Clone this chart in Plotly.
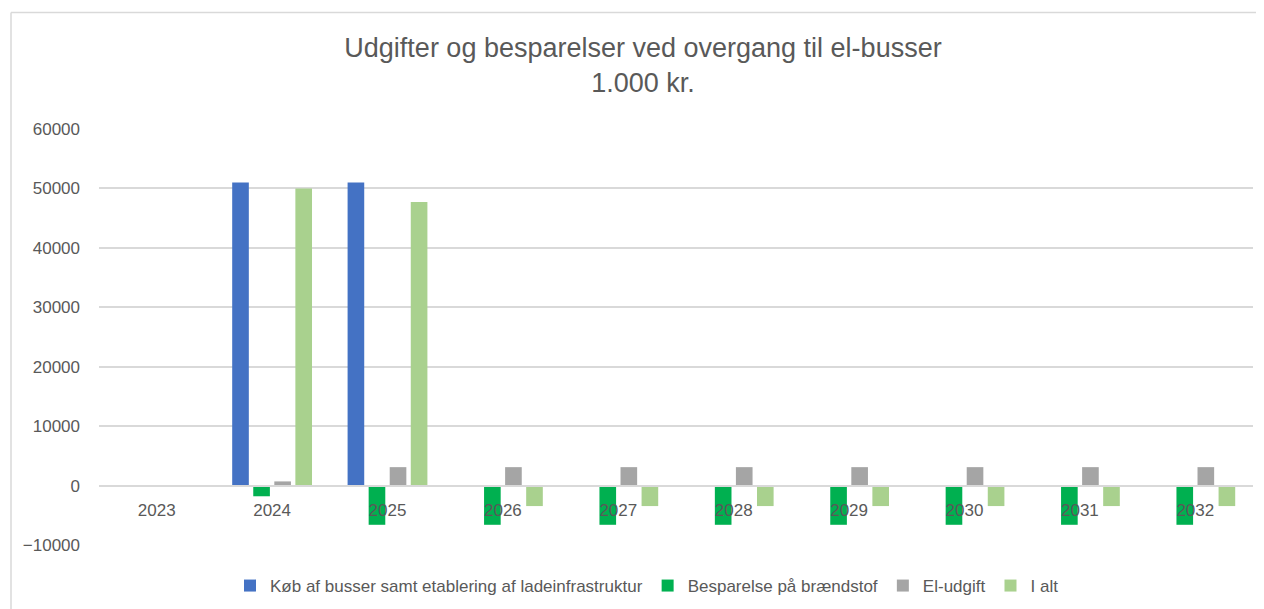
import plotly.graph_objects as go

years = ["2023", "2024", "2025", "2026", "2027", "2028", "2029", "2030", "2031", "2032"]
koeb = [0, 51000, 51000, 0, 0, 0, 0, 0, 0, 0]
besparelse = [0, -1800, -6600, -6600, -6600, -6600, -6600, -6600, -6600, -6600]
el_udgift = [0, 700, 3100, 3100, 3100, 3100, 3100, 3100, 3100, 3100]
i_alt = [0, 50000, 47700, -3450, -3450, -3450, -3450, -3450, -3450, -3450]

names = ["Køb af busser samt etablering af ladeinfrastruktur", "Besparelse på brændstof", "El-udgift", "I alt"]
colors = ["#4472C4", "#00B050", "#A5A5A5", "#A9D18E"]
series = [koeb, besparelse, el_udgift, i_alt]

FONT = "Liberation Sans, Arial, sans-serif"
TXT = "#595959"

fig = go.Figure()
for n, c, v in zip(names, colors, series):
    fig.add_trace(go.Bar(x=years, y=v, name=n, marker=dict(color=c, line=dict(width=0))))

# page has an 8px body margin; figure coordinates = screen - 8
OFF = 8
W, H = 1264 - OFF, 609 - OFF
L, R, T = 99 - OFF, 11, 129 - OFF
B = H - T - 416
pw, ph = W - L - R, H - T - B

def px(x):
    return (x - OFF - L) / pw

def py(y):
    return (H - B - (y - OFF)) / ph

fig.update_layout(
    width=W, height=H,
    margin=dict(l=L, r=R, t=T, b=B, autoexpand=False),
    paper_bgcolor="white", plot_bgcolor="white",
    barmode="group", bargap=0.27, bargroupgap=0.21,
    font=dict(family=FONT, color=TXT, size=17),
    title=dict(
        text="Udgifter og besparelser ved overgang til el-busser<br>1.000 kr.",
        x=(643 - OFF) / W, xref="container", xanchor="center",
        y=1 - (57 - OFF) / H, yref="container", yanchor="top",
        font=dict(family=FONT, size=27, color=TXT),
    ),
    legend=dict(
        orientation="h", x=(647 - OFF) / W, xref="container", xanchor="center",
        y=1 - (586 - OFF) / H, yref="container", yanchor="middle",
        font=dict(family=FONT, size=17, color=TXT),
        itemwidth=30,
    ),
    yaxis=dict(
        range=[-10000, 60000], dtick=10000, tickformat="d",
        showgrid=True, gridcolor="#D9D9D9", gridwidth=1.5,
        zeroline=False, showline=False,
        ticklabelstandoff=18,
        tickfont=dict(family=FONT, size=17, color=TXT),
    ),
    xaxis=dict(
        type="category", anchor="free", position=1 / 7,
        showline=True, linecolor="#D9D9D9", linewidth=1.5,
        showgrid=False, ticks="", ticklabelstandoff=9,
        tickfont=dict(family=FONT, size=17, color=TXT),
    ),
    showlegend=True,
)

# chart frame
fig.add_shape(type="line", xref="paper", yref="paper",
              x0=px(11), x1=px(1270), y0=py(12.5), y1=py(12.5),
              line=dict(color="#D9D9D9", width=1.5), layer="below")
fig.add_shape(type="line", xref="paper", yref="paper",
              x0=px(11), x1=px(11), y0=py(12.5), y1=py(620),
              line=dict(color="#D9D9D9", width=1.5), layer="below")

fig.write_html("out.html")
